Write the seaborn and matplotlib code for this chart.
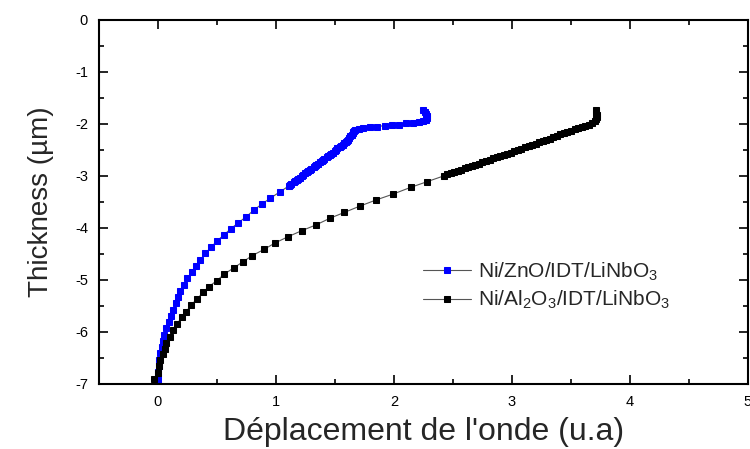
import numpy as np
import pandas as pd
import matplotlib
matplotlib.use("Agg")
import matplotlib.pyplot as plt
from matplotlib.ticker import MultipleLocator
import seaborn as sns

# Ni/ZnO/IDT/LiNbO3 (bleu)
zno_x_bas = [0.00, 0.00, 0.00, 0.01, 0.01, 0.02, 0.03, 0.04, 0.05, 0.07, 0.09, 0.11, 0.13,
             0.15, 0.17, 0.19, 0.22, 0.25, 0.29, 0.32, 0.36, 0.40, 0.45, 0.50, 0.56, 0.62,
             0.68, 0.75, 0.81, 0.88, 0.95, 1.03, 1.11]
zno_y_bas = [-7.00, -6.88, -6.76, -6.65, -6.53, -6.41, -6.29, -6.17, -6.05, -5.93, -5.81,
             -5.69, -5.57, -5.45, -5.33, -5.21, -5.09, -4.97, -4.85, -4.73, -4.61, -4.49,
             -4.37, -4.25, -4.13, -4.01, -3.90, -3.78, -3.66, -3.54, -3.43, -3.31, -3.19]
zno_x_dense = [1.12, 1.13, 1.15, 1.16, 1.18, 1.19, 1.20, 1.22, 1.23, 1.25, 1.26, 1.27, 1.29,
               1.30, 1.32, 1.33, 1.34, 1.36, 1.37, 1.39, 1.40, 1.41, 1.43, 1.44, 1.46, 1.47,
               1.48, 1.50, 1.51, 1.52, 1.54, 1.55, 1.57, 1.58, 1.59, 1.60, 1.61, 1.62, 1.63,
               1.64, 1.65, 1.65, 1.66, 1.67]
zno_y_dense = [-3.17, -3.15, -3.12, -3.10, -3.07, -3.05, -3.03, -3.00, -2.98, -2.95, -2.93,
               -2.91, -2.88, -2.86, -2.83, -2.81, -2.79, -2.76, -2.74, -2.71, -2.69, -2.67,
               -2.64, -2.62, -2.59, -2.57, -2.55, -2.52, -2.50, -2.47, -2.45, -2.43, -2.40,
               -2.37, -2.35, -2.32, -2.30, -2.27, -2.24, -2.21, -2.18, -2.16, -2.13, -2.11]
zno_x_haut = [1.70, 1.74, 1.80, 1.86, 1.92, 1.98, 2.04, 2.10, 2.16, 2.21, 2.25, 2.27, 2.28,
              2.28, 2.27, 2.26, 2.25]
zno_y_haut = [-2.09, -2.08, -2.06, -2.05, -2.03, -2.02, -2.01, -1.99, -1.98, -1.96, -1.95,
              -1.92, -1.88, -1.84, -1.80, -1.76, -1.73]

# Ni/Al2O3/IDT/LiNbO3 (noir)
al_x_bas = [-0.03, 0.00, 0.01, 0.02, 0.04, 0.06, 0.07, 0.10, 0.13, 0.16, 0.20, 0.24, 0.28,
            0.33, 0.38, 0.43, 0.50, 0.56, 0.64, 0.72, 0.80, 0.90, 0.99, 1.10, 1.22, 1.34,
            1.46, 1.58, 1.71, 1.85, 1.99, 2.14, 2.28, 2.42]
al_y_bas = [-6.90, -6.78, -6.65, -6.54, -6.43, -6.32, -6.21, -6.09, -5.96, -5.85, -5.72,
            -5.61, -5.48, -5.37, -5.24, -5.13, -5.01, -4.89, -4.77, -4.65, -4.53, -4.41,
            -4.29, -4.17, -4.05, -3.94, -3.81, -3.70, -3.58, -3.46, -3.35, -3.22, -3.11, -3.00]
al_x_dense = [2.45, 2.48, 2.51, 2.54, 2.57, 2.60, 2.63, 2.66, 2.69, 2.72, 2.75, 2.78, 2.81,
              2.84, 2.87, 2.90, 2.93, 2.96, 2.99, 3.02, 3.05, 3.08, 3.11, 3.14, 3.17, 3.20,
              3.23, 3.26, 3.29, 3.32, 3.35, 3.38, 3.41, 3.44, 3.47, 3.50, 3.53, 3.56, 3.59, 3.62]
al_y_dense = [-2.97, -2.95, -2.93, -2.90, -2.88, -2.85, -2.83, -2.81, -2.78, -2.76, -2.73,
              -2.71, -2.69, -2.66, -2.64, -2.62, -2.59, -2.57, -2.55, -2.52, -2.50, -2.48,
              -2.45, -2.43, -2.40, -2.38, -2.35, -2.33, -2.30, -2.28, -2.25, -2.23, -2.20,
              -2.18, -2.15, -2.13, -2.10, -2.08, -2.05, -2.03]
al_x_haut = [3.65, 3.68, 3.70, 3.71, 3.72, 3.72, 3.71, 3.71]
al_y_haut = [-2.01, -1.98, -1.95, -1.91, -1.87, -1.82, -1.78, -1.74]

labels = ["Ni/ZnO/IDT/LiNbO$_3$", "Ni/Al$_2$O$_3$/IDT/LiNbO$_3$"]
couleurs = ["#0000ff", "#000000"]

zno = pd.DataFrame({"x": zno_x_bas + zno_x_dense + zno_x_haut,
                    "y": zno_y_bas + zno_y_dense + zno_y_haut})
al = pd.DataFrame({"x": al_x_bas + al_x_dense + al_x_haut,
                   "y": al_y_bas + al_y_dense + al_y_haut})

sns.set_style("ticks")
plt.rcParams["font.family"] = ["Liberation Sans", "DejaVu Sans"]
plt.rcParams["mathtext.fontset"] = "custom"
plt.rcParams["mathtext.rm"] = "Liberation Sans"
plt.rcParams["mathtext.it"] = "Liberation Sans:italic"
plt.rcParams["mathtext.bf"] = "Liberation Sans:bold"
plt.rcParams["axes.unicode_minus"] = False

fig = plt.figure(figsize=(7.5, 4.49), dpi=100)
ax = fig.add_axes([0.132, 0.1448, 0.8653, 0.8107])

for df, lab, c in zip([zno, al], labels, couleurs):
    sns.lineplot(data=df, x="x", y="y", sort=False, estimator=None, ax=ax,
                 color="#555555", linewidth=0.8, marker="s", markersize=4,
                 markerfacecolor=c, markeredgecolor=c, label=lab)

ax.set_xlim(-0.5, 5)
ax.set_ylim(-7, 0)
ax.xaxis.set_major_locator(MultipleLocator(1))
ax.xaxis.set_minor_locator(MultipleLocator(0.5))
ax.yaxis.set_major_locator(MultipleLocator(1))
ax.yaxis.set_minor_locator(MultipleLocator(0.5))
ax.tick_params(which="both", direction="in", top=True, right=True, width=1.2,
               labelsize=10.5, pad=8, color="black", labelcolor="black")
ax.tick_params(which="major", length=6.5)
ax.tick_params(which="minor", length=3.5)
for s in ax.spines.values():
    s.set_linewidth(1.5)
    s.set_color("black")

ax.set_xlabel("Déplacement de l'onde (u.a)", fontsize=23, labelpad=6)
ax.set_ylabel("Thickness (µm)", fontsize=20, labelpad=15)

ax.legend(loc="center left", bbox_to_anchor=(423 / 750, 1 - 286 / 449),
          bbox_transform=fig.transFigure, frameon=False, fontsize=15,
          handlelength=2.3, handletextpad=0.35, borderpad=0, borderaxespad=0,
          labelspacing=0.3)

fig.savefig("out.png", dpi=100)
